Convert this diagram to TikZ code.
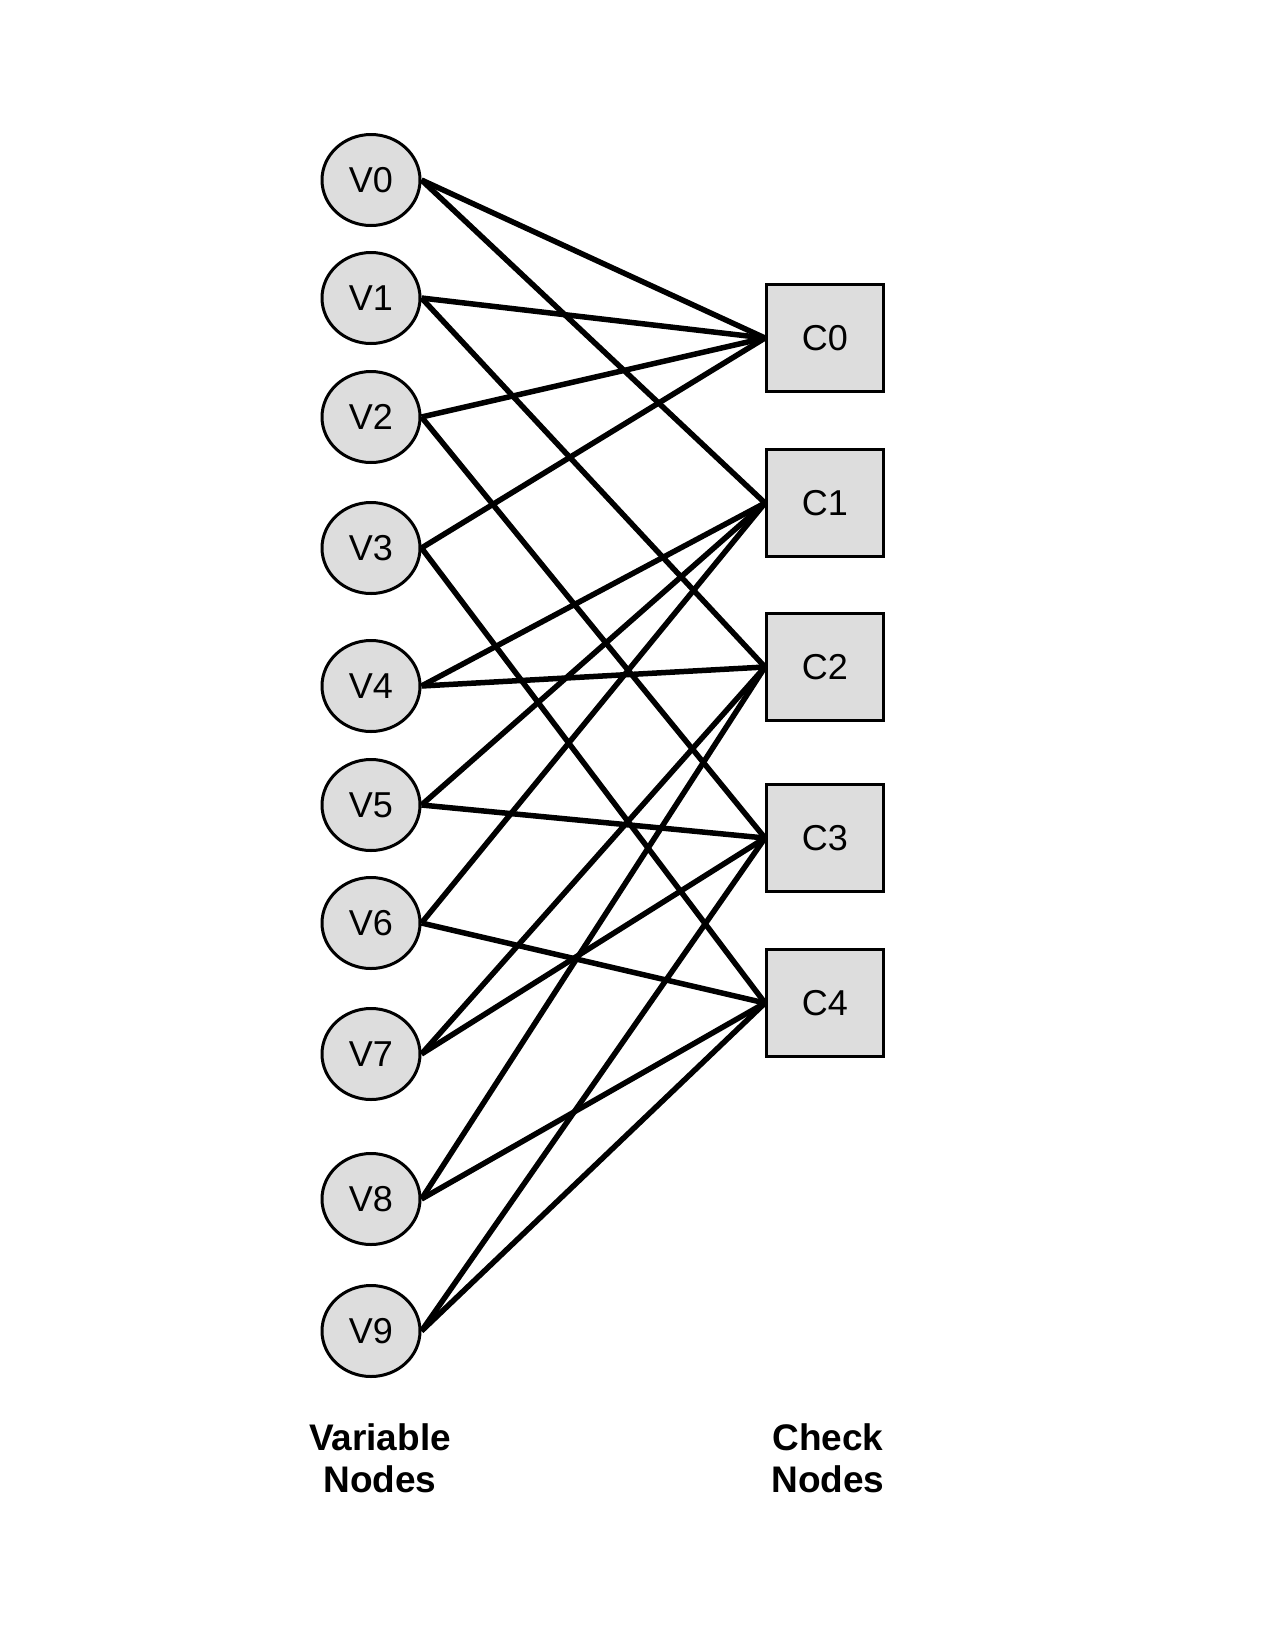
\documentclass[tikz,border=0pt]{standalone}
\usepackage{fontspec}
\setmainfont{Liberation Sans}
\usetikzlibrary{shapes.geometric}
\definecolor{nodefill}{HTML}{DDDDDD}
\tikzset{
  varnode/.style={ellipse, draw=black, line width=3pt, fill=nodefill,
    minimum width=98pt, minimum height=91pt, inner sep=0pt,
    font=\fontsize{36}{43}\selectfont},
  chknode/.style={rectangle, draw=black, line width=3pt, fill=nodefill,
    minimum width=117pt, minimum height=107pt, inner sep=0pt,
    font=\fontsize{36}{43}\selectfont},
  edge/.style={line width=5.5pt, black},
  caption/.style={align=center, font=\fontsize{37}{42}\selectfont\bfseries}
}
\begin{document}
\begin{tikzpicture}[x=1pt,y=-1pt]
\useasboundingbox (0,0) rectangle (1275,1650);
\fill[white] (0,0) rectangle (1275,1650);
\node[varnode] (V0) at (371,180) {V0};
\node[varnode] (V1) at (371,298) {V1};
\node[varnode] (V2) at (371,417) {V2};
\node[varnode] (V3) at (371,548) {V3};
\node[varnode] (V4) at (371,686) {V4};
\node[varnode] (V5) at (371,805) {V5};
\node[varnode] (V6) at (371,923) {V6};
\node[varnode] (V7) at (371,1054) {V7};
\node[varnode] (V8) at (371,1199) {V8};
\node[varnode] (V9) at (371,1331) {V9};
\node[chknode] (C0) at (825,338) {C0};
\node[chknode] (C1) at (825,503) {C1};
\node[chknode] (C2) at (825,667) {C2};
\node[chknode] (C3) at (825,838) {C3};
\node[chknode] (C4) at (825,1003) {C4};
\foreach \v/\c in {V0/C0,V0/C1,V1/C0,V1/C2,V2/C0,V2/C3,V3/C0,V3/C4,
                   V4/C1,V4/C2,V5/C1,V5/C3,V6/C1,V6/C4,V7/C2,V7/C3,
                   V8/C2,V8/C4,V9/C3,V9/C4}
  \draw[edge] (\v.east) -- (\c.west);
\node[caption] (varlab) at (380,1458) {Variable\\Nodes};
\node[caption] (chklab) at (828,1458) {Check\\Nodes};
\end{tikzpicture}
\end{document}
